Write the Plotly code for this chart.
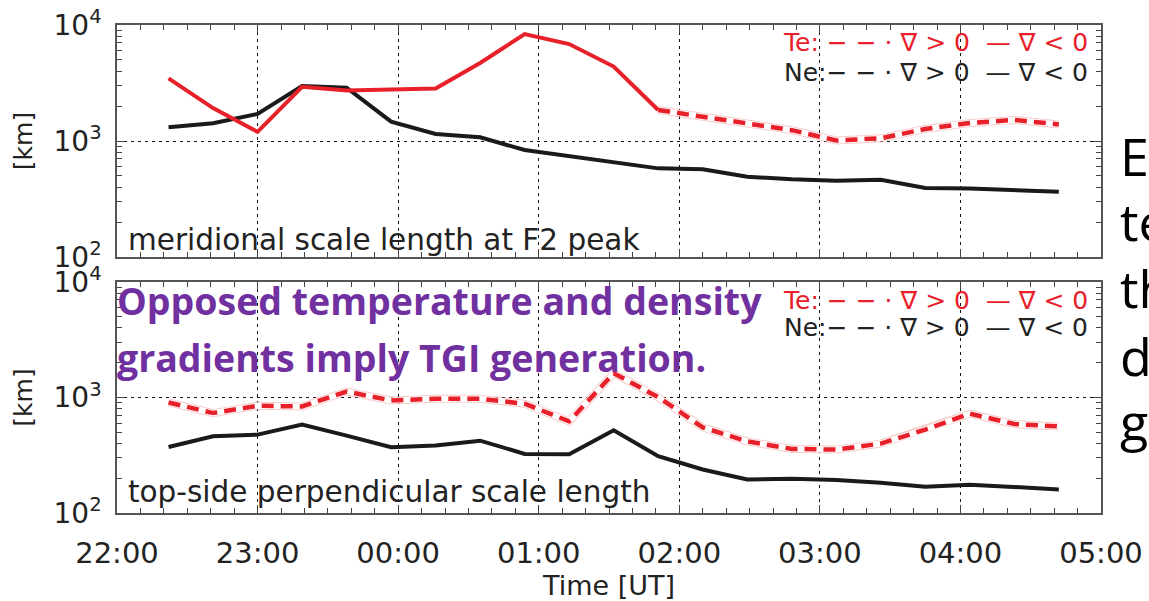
import plotly.graph_objects as go
from plotly.subplots import make_subplots
import pandas as pd

# ---------------- data ----------------
times = ["22:22", "22:41", "23:00", "23:19", "23:38", "23:57", "00:16", "00:35",
         "00:54", "01:13", "01:32", "01:51", "02:10", "02:29", "02:48", "03:07",
         "03:26", "03:45", "04:04", "04:23", "04:42"]

# top panel: meridional scale length at F2 peak [km]
top_te = [3470, 1920, 1200, 2930, 2720, 2800, 2840, 4710, 8350, 6850, 4380,
          1850, 1610, 1400, 1240, 1010, 1055, 1270, 1430, 1520, 1390]
top_te_grad = ["neg"] * 12 + ["pos"] * 9
top_ne = [1313, 1421, 1710, 2976, 2884, 1468, 1149, 1076, 836, 743, 655,
          581, 570, 492, 467, 454, 464, 393, 390, 380, 365]
top_ne_grad = ["neg"] * 21

# bottom panel: top-side perpendicular scale length [km]
bot_te = [906, 733, 848, 836, 1126, 942, 975, 975, 883, 621, 1623,
          1007, 551, 417, 359, 354, 399, 527, 725, 589, 562]
bot_te_grad = ["pos"] * 21
bot_ne = [373, 461, 477, 582, 468, 371, 384, 423, 325, 323, 520,
          310, 238, 195, 198, 193, 183, 169, 176, 167, 160]
bot_ne_grad = ["neg"] * 21

ytick_vals = [100, 1000, 10000]
ytick_text = ["10<sup>2</sup>", "10<sup>3</sup>", "10<sup>4</sup>"]
panel_labels = ["meridional scale length at F2 peak", "top-side perpendicular scale length"]
side_words = ["E", "te", "th", "d", "g"]
note_lines = ["Opposed temperature and density", "gradients imply TGI generation."]


def to_dt(s):
    h, m = map(int, s.split(":"))
    day = 1 if h >= 12 else 2
    return pd.Timestamp(2014, 1, day, h, m)


tx = [to_dt(s) for s in times]

W, H = 1149, 601
PL, PR, PT, PB = 117, 1101, 25, 513


def px2x(px):
    return (px - PL) / (PR - PL)


def py2y(py):
    return (PB - py) / (PB - PT)


RED = "#e8202a"
BLACK = "#1a1a1a"
TXT = "#222222"

fig = make_subplots(rows=2, cols=1, shared_xaxes=True)


def split_series(vals, grads):
    n = len(vals)
    solid = [vals[i] if grads[i] == "neg" else None for i in range(n)]
    dashed = []
    for i in range(n):
        keep = grads[i] == "pos"
        if i + 1 < n and grads[i + 1] == "pos":
            keep = True
        if i - 1 >= 0 and grads[i - 1] == "pos":
            keep = True
        dashed.append(vals[i] if keep else None)
    return solid, dashed


def add_series(vals, grads, color, row):
    solid, dashed = split_series(vals, grads)
    if any(v is not None for v in dashed):
        fig.add_trace(go.Scatter(x=tx, y=dashed, mode="lines",
                                 line=dict(color="rgba(240,140,140,0.45)", width=8),
                                 hoverinfo="skip", showlegend=False), row=row, col=1)
        fig.add_trace(go.Scatter(x=tx, y=dashed, mode="lines",
                                 line=dict(color="white", width=6),
                                 hoverinfo="skip", showlegend=False), row=row, col=1)
        fig.add_trace(go.Scatter(x=tx, y=dashed, mode="lines",
                                 line=dict(color=color, width=4.5, dash="12px,7px"),
                                 showlegend=False), row=row, col=1)
    if any(v is not None for v in solid):
        fig.add_trace(go.Scatter(x=tx, y=solid, mode="lines",
                                 line=dict(color=color, width=4),
                                 showlegend=False), row=row, col=1)


add_series(top_ne, top_ne_grad, BLACK, 1)
add_series(top_te, top_te_grad, RED, 1)
add_series(bot_ne, bot_ne_grad, BLACK, 2)
add_series(bot_te, bot_te_grad, RED, 2)

xr = [pd.Timestamp(2014, 1, 1, 22, 0), pd.Timestamp(2014, 1, 2, 5, 0)]
common_x = dict(range=xr, type="date", tickformat="%H:%M", dtick=3600000,
                tick0=xr[0], showgrid=True, gridcolor="#111", griddash="3px,4px",
                gridwidth=1, ticks="inside", ticklen=8, tickcolor="#444",
                showline=True, linecolor="#555", linewidth=1.5, mirror="ticks",
                minor=dict(ticks="inside", ticklen=5, dtick=600000, tickcolor="#444",
                           showgrid=False),
                zeroline=False, automargin=False,
                tickfont=dict(family="DejaVu Sans", size=29, color=TXT))
common_y = dict(type="log", range=[2, 4], tickvals=ytick_vals, ticktext=ytick_text,
                showgrid=True, gridcolor="#111", griddash="3px,4px", gridwidth=1,
                ticks="inside", ticklen=8, tickcolor="#444",
                showline=True, linecolor="#555", linewidth=1.5, mirror="ticks",
                minor=dict(ticks="inside", ticklen=5, dtick="D1", tickcolor="#444",
                           showgrid=False),
                zeroline=False, automargin=False, ticklabelstandoff=8,
                tickfont=dict(family="DejaVu Sans", size=28, color=TXT),
                title=dict(text="[km]", font=dict(family="DejaVu Sans", size=25, color=TXT),
                           standoff=14))

fig.update_xaxes(**common_x)
fig.update_xaxes(showticklabels=False, row=1, col=1)
fig.update_xaxes(ticklabelstandoff=13,
                 title=dict(text="Time [UT]", font=dict(family="DejaVu Sans", size=27, color=TXT),
                            standoff=6), row=2, col=1)
fig.update_yaxes(**common_y)

fig.update_layout(
    width=W, height=H,
    margin=dict(l=PL, r=W - PR, t=PT, b=H - PB, autoexpand=False),
    paper_bgcolor="white", plot_bgcolor="white",
    showlegend=False,
    yaxis=dict(domain=[py2y(257), 1]),
    yaxis2=dict(domain=[0, py2y(282)]),
)

ann = []
# panel labels
ann.append(dict(text=panel_labels[0], x=px2x(126), y=py2y(240), xref="paper", yref="paper",
                xanchor="left", yanchor="middle", showarrow=False,
                font=dict(family="DejaVu Sans", size=29.5, color=TXT)))
ann.append(dict(text=panel_labels[1], x=px2x(126), y=py2y(492), xref="paper", yref="paper",
                xanchor="left", yanchor="middle", showarrow=False,
                font=dict(family="DejaVu Sans", size=29.5, color=TXT)))
# in-panel legends
for (yte, yne) in [(43, 72), (300, 327)]:
    ann.append(dict(text="Te: − − · ∇ > 0  — ∇ < 0", x=px2x(1090), y=py2y(yte),
                    xref="paper", yref="paper", xanchor="right", yanchor="middle",
                    showarrow=False, font=dict(family="DejaVu Sans", size=25, color=RED)))
    ann.append(dict(text="Ne:− − · ∇ > 0  — ∇ < 0", x=px2x(1090), y=py2y(yne),
                    xref="paper", yref="paper", xanchor="right", yanchor="middle",
                    showarrow=False, font=dict(family="DejaVu Sans", size=25, color="#222")))
# purple note
for txt, yc in zip(note_lines, [300, 357]):
    ann.append(dict(text="<b>" + txt + "</b>", x=px2x(115), y=py2y(yc), xref="paper", yref="paper",
                    xanchor="left", yanchor="middle", showarrow=False,
                    font=dict(family="Open Sans", size=37.5, color="#7030A0")))
# cut-off slide text at right
for w, yc in zip(side_words, [155, 220, 287, 355, 420]):
    ann.append(dict(text=w, x=px2x(1118), y=py2y(yc), xref="paper", yref="paper",
                    xanchor="left", yanchor="middle", showarrow=False,
                    font=dict(family="Open Sans", size=52, color="black")))

fig.update_layout(annotations=ann)

fig.write_html("out.html", config={"displayModeBar": False},
               post_script="document.body.style.margin='0';document.body.style.overflow='hidden';")
